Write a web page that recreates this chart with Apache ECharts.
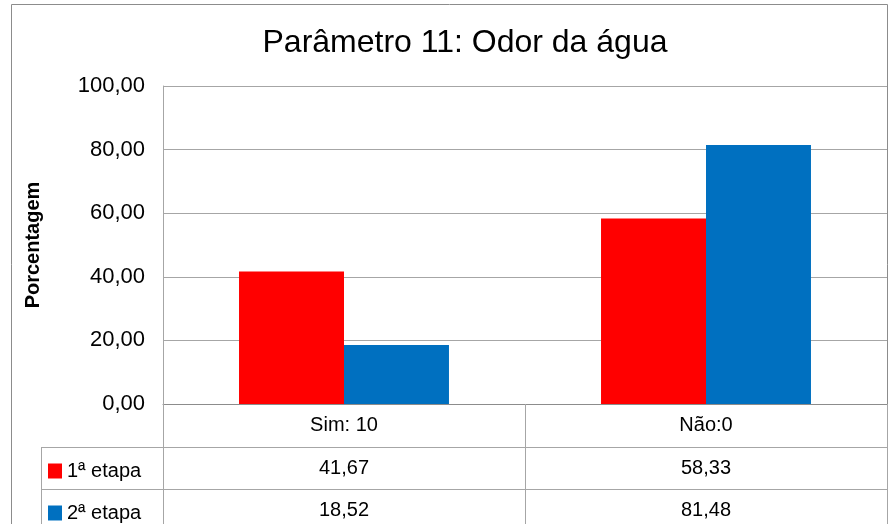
<!DOCTYPE html>
<html>
<head>
<meta charset="utf-8">
<script src="https://cdn.jsdelivr.net/npm/echarts@6/dist/echarts.min.js"></script>
<style>
  html, body { margin: 0; padding: 0; background: #fff; }
  #chart { width: 896px; height: 524px; }
</style>
</head>
<body>
<div id="chart"></div>
<script>
// dados do gráfico
const categorias = ['Sim: 10', 'Não:0']
const etapa1 = [41.67, 58.33]
const etapa2 = [18.52, 81.48]
const nomesSeries = ['1ª etapa', '2ª etapa']

const fonte = "'Liberation Sans Narrow', 'Liberation Sans', Arial, sans-serif"
const fmt = v => v.toFixed(2).replace('.', ',')
const linha = '#a6a6a6'

const chart = echarts.init(document.getElementById('chart'))

// uma legenda por linha da tabela
const legenda = (nome, top) => ({
  left: 48,
  top: top,
  padding: 0,
  itemWidth: 14,
  itemHeight: 15,
  icon: 'rect',
  data: [nome],
  textStyle: { fontFamily: fonte, fontSize: 20, color: '#000' }
})

const option = {
  animation: false,
  textStyle: { fontFamily: fonte },
  title: {
    text: 'Parâmetro 11: Odor da água',
    left: 460,
    top: 22,
    textAlign: 'center',
    textStyle: { fontFamily: fonte, fontSize: 32, fontWeight: 'normal', color: '#000' }
  },
  legend: [legenda(nomesSeries[0], 461), legenda(nomesSeries[1], 503)],
  grid: { left: 163, right: 9, top: 86, bottom: 120 },
  xAxis: {
    type: 'category',
    data: categorias,
    axisLine: { lineStyle: { color: '#8c8c8c', width: 1 } },
    axisTick: { show: true, length: 120, lineStyle: { color: linha } },
    axisLabel: {
      margin: 0,
      interval: 0,
      formatter: (v, i) => '{c|' + v + '}\n{v|' + fmt(etapa1[i]) + '}\n{v|' + fmt(etapa2[i]) + '}',
      rich: {
        c: { fontFamily: fonte, fontSize: 20, lineHeight: 43, color: '#000' },
        v: { fontFamily: fonte, fontSize: 20, lineHeight: 42, color: '#000' }
      }
    }
  },
  yAxis: {
    type: 'value',
    min: 0,
    max: 100,
    interval: 20,
    name: 'Porcentagem',
    nameLocation: 'middle',
    nameGap: 120,
    nameTextStyle: { fontFamily: fonte, fontSize: 20, fontWeight: 'bold', color: '#000' },
    axisLine: { show: true, lineStyle: { color: linha } },
    axisTick: { show: false },
    axisLabel: {
      margin: 18,
      formatter: v => fmt(v),
      fontFamily: fonte,
      fontSize: 22,
      color: '#000'
    },
    splitLine: { lineStyle: { color: linha, width: 1 } }
  },
  series: [
    {
      name: nomesSeries[0],
      type: 'bar',
      data: etapa1,
      itemStyle: { color: '#ff0000' },
      barGap: '0%',
      barCategoryGap: '42%'
    },
    {
      name: nomesSeries[1],
      type: 'bar',
      data: etapa2,
      itemStyle: { color: '#0070c0' }
    }
  ],
  graphic: [
    // borda externa do gráfico
    { type: 'polyline', silent: true, shape: { points: [[11.5, 530], [11.5, 4.5], [887.5, 4.5], [887.5, 530]] },
      style: { stroke: '#8c8c8c', lineWidth: 1, fill: null } },
    // linhas da tabela de dados
    { type: 'line', silent: true, shape: { x1: 41, y1: 447.5, x2: 887, y2: 447.5 }, style: { stroke: linha, lineWidth: 1 } },
    { type: 'line', silent: true, shape: { x1: 41, y1: 489.5, x2: 887, y2: 489.5 }, style: { stroke: linha, lineWidth: 1 } },
    { type: 'line', silent: true, shape: { x1: 41.5, y1: 447, x2: 41.5, y2: 530 }, style: { stroke: linha, lineWidth: 1 } }
  ]
}

chart.setOption(option)
window.addEventListener('resize', chart.resize)
</script>
</body>
</html>
